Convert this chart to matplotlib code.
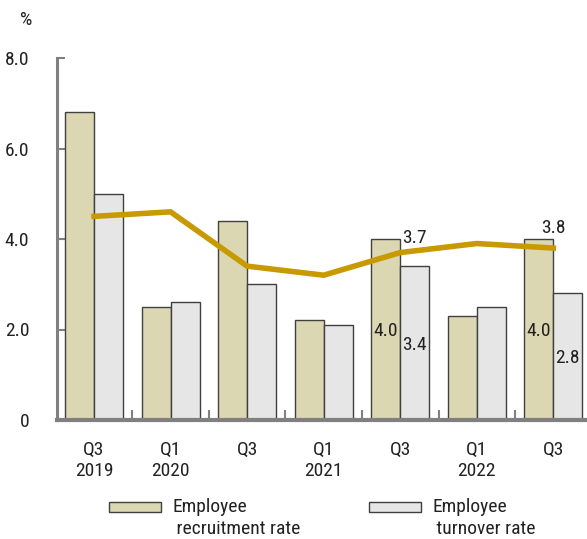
import matplotlib
matplotlib.use("Agg")
import matplotlib.pyplot as plt
import numpy as np
from matplotlib.patches import Rectangle
from matplotlib import font_manager

names = {f.name for f in font_manager.fontManager.ttflist}
fam = 'Liberation Sans'
for cand in ['Arial Narrow', 'Liberation Sans Narrow', 'Roboto Condensed', 'Archivo Narrow', 'PT Sans Narrow']:
    if cand in names:
        fam = cand
        break
plt.rcParams['font.family'] = [fam, 'DejaVu Sans']

categories = ["Q3\n2019", "Q1\n2020", "Q3", "Q1\n2021", "Q3", "Q1\n2022", "Q3"]
recruitment = [6.8, 2.5, 4.4, 2.2, 4.0, 2.3, 4.0]
turnover = [5.0, 2.6, 3.0, 2.1, 3.4, 2.5, 2.8]
line_vals = [4.5, 4.6, 3.4, 3.2, 3.7, 3.9, 3.8]
yticks = [0, 2.0, 4.0, 6.0, 8.0]
ytick_labels = ["0", "2.0", "4.0", "6.0", "8.0"]
series_names = ["Employee\n recruitment rate", "Employee\n turnover rate"]

W, H = 587, 539
fig = plt.figure(figsize=(W/100, H/100), dpi=100)
ax = fig.add_axes([57/W, 119/H, 1 - 57/W, 362/H])

x = np.arange(len(categories))
w = 0.38
axis_col = '#808080'
c_rec = '#DCD7B3'
c_turn = '#E6E6E6'
edge = '#404040'
ax.bar(x - w/2, recruitment, w, color=c_rec, edgecolor=edge, linewidth=1.0, zorder=2)
ax.bar(x + w/2, turnover, w, color=c_turn, edgecolor=edge, linewidth=1.0, zorder=2)
ax.plot(x, line_vals, color='#C89A00', linewidth=4, zorder=3, solid_joinstyle='miter')

fs = 14
tc = '#222222'
for i in [4, 6]:
    ax.text(x[i] - w/2, recruitment[i] * 0.49, f"{recruitment[i]:.1f}", ha='center', va='center', fontsize=fs, color=tc, zorder=4)
    ax.text(x[i] + w/2, turnover[i] * 0.49, f"{turnover[i]:.1f}", ha='center', va='center', fontsize=fs, color=tc, zorder=4)
ax.text(x[4] + 0.03, line_vals[4] + 0.12, f"{line_vals[4]:.1f}", ha='left', va='bottom', fontsize=fs, color=tc, zorder=4)
ax.text(x[6], line_vals[6] + 0.25, f"{line_vals[6]:.1f}", ha='center', va='bottom', fontsize=fs, color=tc, zorder=4)

ax.set_xlim(-0.484, 6.44)
ax.set_ylim(0, 8)
ax.set_yticks(yticks)
ax.set_yticklabels(ytick_labels, fontsize=fs, color=tc)
ax.set_xticks(x)
ax.set_xticklabels(categories, fontsize=fs, linespacing=1.25, color=tc)
ax.set_xticks(x[:-1] + 0.5, minor=True)
ax.tick_params(axis='x', which='major', length=0, pad=15)
ax.tick_params(axis='x', which='minor', direction='in', length=7, width=1.5, color=axis_col)
ax.tick_params(axis='y', direction='in', length=6, width=1.5, color=axis_col, pad=20)

for s in ['top', 'right']:
    ax.spines[s].set_visible(False)
ax.spines['left'].set_color(axis_col)
ax.spines['left'].set_linewidth(2.2)
ax.spines['bottom'].set_color(axis_col)
ax.spines['bottom'].set_linewidth(3)

fig.text(20/W, 1 - 20/H, "%", fontsize=fs, ha='left', va='center', color=tc)
fig.text(0.53, 1.0 + 9/H, "Manufacturing Sector", fontsize=15, fontweight='bold', ha='center', va='center')

# legend
for (px, face, lab) in [(109, c_rec, series_names[0]), (369, c_turn, series_names[1])]:
    fig.patches.append(Rectangle((px/W, 1 - 512/H), 52/W, 10/H, transform=fig.transFigure,
                                 facecolor=face, edgecolor=edge, linewidth=1.0))
    fig.text((px + 63)/W, 1 - 498/H, lab, fontsize=fs, ha='left', va='top', color=tc, linespacing=1.3)

fig.savefig("out.png", dpi=100)
